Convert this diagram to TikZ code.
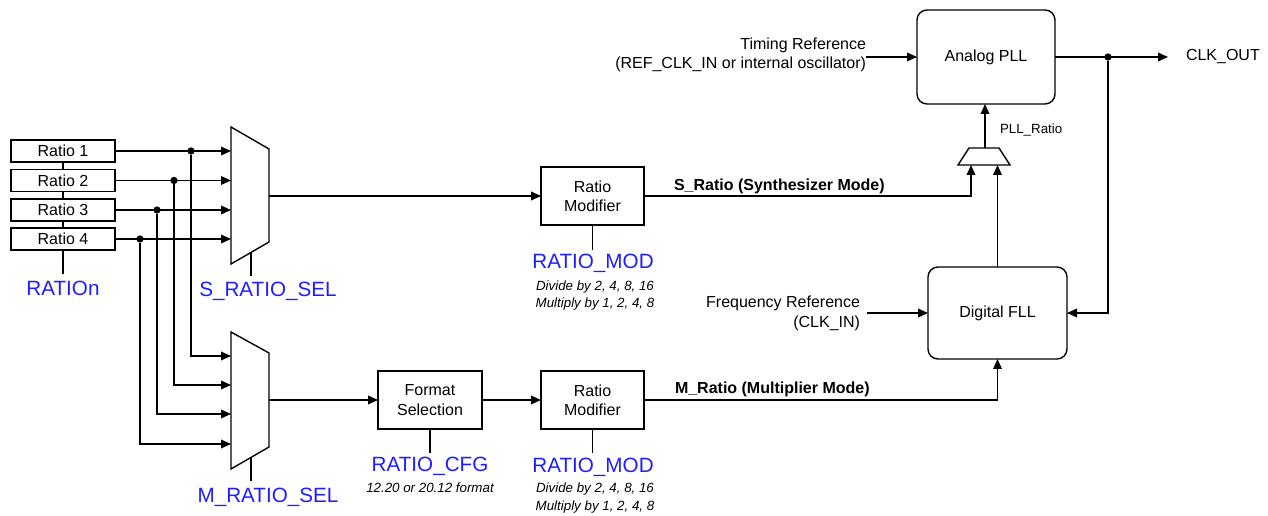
\documentclass[tikz,border=0pt]{standalone}
\usepackage{fontspec}
\setmainfont{Liberation Sans}
\usetikzlibrary{arrows.meta}
\definecolor{sigblue}{RGB}{30,30,255}
\begin{document}
\begin{tikzpicture}[x=0.75pt,y=-0.75pt,line width=1.05pt,
  >={Triangle[length=7.5pt,width=6.5pt]},
  every node/.style={inner sep=0pt,outer sep=0pt},
  main/.style={font=\fontsize{12}{14.5}\selectfont},
  rbox/.style={draw,main,minimum width=78pt,minimum height=16.5pt},
  blk/.style={draw,main,align=center,minimum width=77.25pt,minimum height=43.5pt},
  rblk/.style={draw,rounded corners=7.5pt,main},
  sig/.style={text=sigblue,font=\fontsize{15.5}{17}\selectfont},
  note/.style={font=\fontsize{10}{13}\selectfont\itshape,align=center},
  lbl/.style={font=\fontsize{12}{14}\selectfont\bfseries,anchor=west},
  dot/.style={circle,fill,minimum size=5.5pt},
]
\useasboundingbox (0,0) rectangle (1268,516);

% ratio registers
\node[rbox] (r1) at (63,151) {Ratio 1};
\node[rbox] (r2) at (63,180.5) {Ratio 2};
\node[rbox] (r3) at (63,210) {Ratio 3};
\node[rbox] (r4) at (63,239) {Ratio 4};
\node[sig] (ration) at (63,288) {RATIOn};
\coordinate (rn) at (63,274);
\draw (r1.south)--(r2.north) (r2.south)--(r3.north) (r3.south)--(r4.north) (r4.south)--(rn);

% S mux
\draw (231,127) -- (269,149) -- (269,242) -- (231,264) -- cycle;
\coordinate (s1) at (231,151);
\coordinate (s2) at (231,180.5);
\coordinate (s3) at (231,210);
\coordinate (s4) at (231,239);
\coordinate (sout) at (269,196);
\coordinate (ssel) at (251,252.5);
\coordinate (ssel2) at (251,276);
\node[sig] (ssellbl) at (268,291) {S\_RATIO\_SEL};
\draw (ssel) -- (ssel2);
\draw[->] (r1.east) -- (s1);
\draw[->] (r2.east) -- (s2);
\draw[->] (r3.east) -- (s3);
\draw[->] (r4.east) -- (s4);

% M mux
\draw (231,332) -- (269,353) -- (269,447) -- (231,469) -- cycle;
\coordinate (m1) at (231,356);
\coordinate (m2) at (231,385);
\coordinate (m3) at (231,414);
\coordinate (m4) at (231,444);
\coordinate (mout) at (269,400);
\coordinate (msel) at (251,457.5);
\coordinate (msel2) at (251,481);
\node[sig] (msellbl) at (268,497) {M\_RATIO\_SEL};
\draw (msel) -- (msel2);

% taps
\node[dot] (d1) at (191,151) {};
\node[dot] (d2) at (174,180.5) {};
\node[dot] (d3) at (157,210) {};
\node[dot] (d4) at (140,239) {};
\draw[->] (d1) |- (m1);
\draw[->] (d2) |- (m2);
\draw[->] (d3) |- (m3);
\draw[->] (d4) |- (m4);

% S path
\node[blk] (rm1) at (592.5,196) {Ratio\\Modifier};
\draw[->] (sout) -- (rm1.west);
\coordinate (mod1top) at (592.5,250);
\draw (rm1.south) -- (mod1top);
\node[sig] (mod1) at (593,263) {RATIO\_MOD};
\node[note] (mod1n) at (595,295.5) {Divide by 2, 4, 8, 16\\Multiply by 1, 2, 4, 8};

% M path
\node[blk,minimum width=78pt] (fmt) at (430,400) {Format\\Selection};
\draw[->] (mout) -- (fmt.west);
\coordinate (cfgtop) at (430,453);
\draw (fmt.south) -- (cfgtop);
\node[sig] (cfg) at (430,466) {RATIO\_CFG};
\node[note] (cfgn) at (430,488) {12.20 or 20.12 format};

\node[blk] (rm2) at (592.5,400) {Ratio\\Modifier};
\draw[->] (fmt.east) -- (rm2.west);
\coordinate (mod2top) at (592.5,453);
\draw (rm2.south) -- (mod2top);
\node[sig] (mod2) at (593,467) {RATIO\_MOD};
\node[note] (mod2n) at (595,498) {Divide by 2, 4, 8, 16\\Multiply by 1, 2, 4, 8};

% PLL / FLL
\node[rblk,minimum width=103.5pt,minimum height=70.5pt] (apll) at (986,57) {Analog PLL};
\node[rblk,minimum width=104.25pt,minimum height=69pt] (dfll) at (997.5,313) {Digital FLL};

% PLL ratio mux
\draw (958,165) -- (969,148) -- (999,148) -- (1010,165) -- cycle;
\coordinate (pout) at (985,148);
\coordinate (pin1) at (971,165);
\coordinate (pin2) at (997.5,165);
\draw[->] (pout) -- (pout |- apll.south);
\node[font=\fontsize{10}{12}\selectfont,anchor=west] (pllr) at (1000,130) {PLL\_Ratio};

\draw[->] (rm1.east) -| (pin1);
\node[lbl] (slbl) at (674,186) {S\_Ratio (Synthesizer Mode)};
\draw[->] (dfll.north) -- (pin2);
\draw[->] (rm2.east) -| (dfll.south);
\node[lbl] (mlbl) at (675,389) {M\_Ratio (Multiplier Mode)};

% references
\node[main,align=right,anchor=east] (tref) at (866,55) {Timing Reference\\(REF\_CLK\_IN or internal oscillator)};
\draw[->] (tref.east |- apll.west) -- (apll.west);
\node[font=\fontsize{12}{15}\selectfont,align=right,anchor=east] (fref) at (860,313) {Frequency Reference\\(CLK\_IN)};
\coordinate (frefa) at (867,313);
\draw[->] (frefa) -- (dfll.west);

% output
\node[dot] (cd) at (1108,57) {};
\coordinate (clkarr) at (1168,57);
\node[main,anchor=west] (clkout) at (1186,57) {CLK\_OUT};
\draw[->] (apll.east) -- (clkarr);
\draw[->] (cd) |- (dfll.east);
\end{tikzpicture}
\end{document}
